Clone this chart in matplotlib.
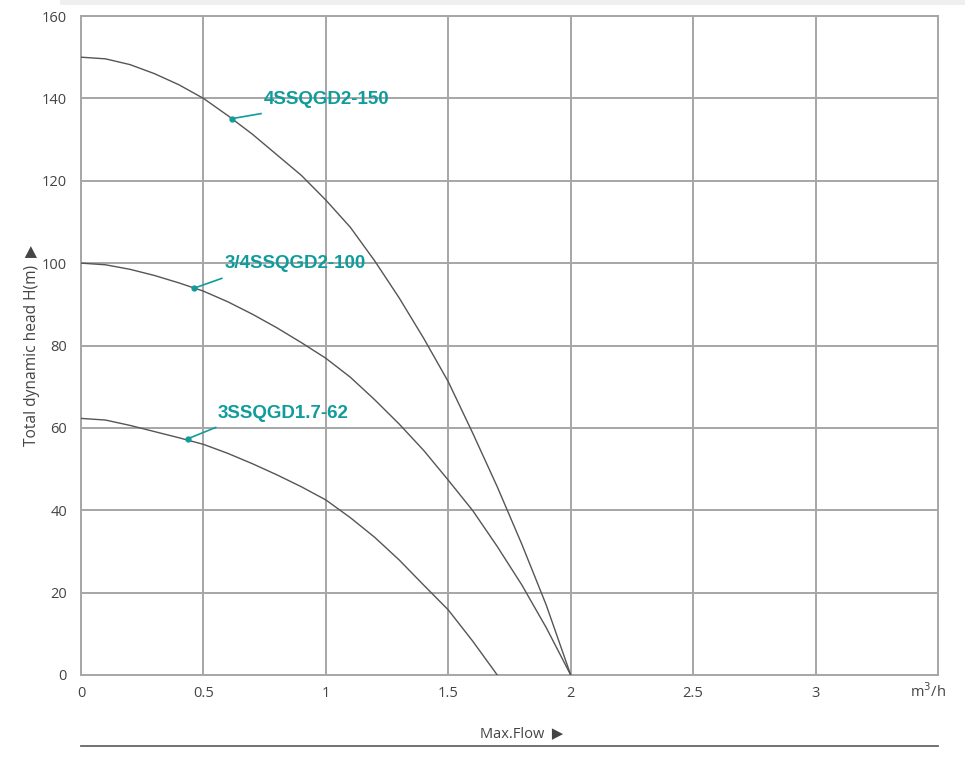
import matplotlib.pyplot as plt
from matplotlib.patches import Rectangle

# flow (m3/h) and head (m)
q_150 = [0, 0.1, 0.2, 0.3, 0.4, 0.5, 0.6, 0.7, 0.8, 0.9, 1.0, 1.1, 1.2, 1.3, 1.4, 1.5, 1.6, 1.7, 1.8, 1.9, 2.0]
h_150 = [150, 149.6, 148.2, 146, 143.3, 140, 135.8, 131.3, 126.3, 121.3, 115.3, 108.7, 100.5, 91.5, 81.7,
         71.2, 58.7, 45.7, 31.8, 17, 0]

q_100 = [0, 0.1, 0.2, 0.3, 0.4, 0.5, 0.6, 0.7, 0.8, 0.9, 1.0, 1.1, 1.2, 1.3, 1.4, 1.5, 1.6, 1.7, 1.8, 1.9, 2.0]
h_100 = [100, 99.6, 98.5, 97, 95.2, 93.2, 90.6, 87.6, 84.3, 80.7, 76.9, 72.3, 66.8, 60.9, 54.5,
         47.3, 39.9, 31.2, 21.9, 11.5, 0]

q_62 = [0, 0.1, 0.2, 0.3, 0.4, 0.5, 0.6, 0.7, 0.8, 0.9, 1.0, 1.1, 1.2, 1.3, 1.4, 1.5, 1.6, 1.7]
h_62 = [62.3, 61.9, 60.6, 59.1, 57.6, 56.0, 53.8, 51.3, 48.6, 45.7, 42.5, 38.2, 33.4, 27.9, 21.8,
        15.8, 8.2, 0]

labels = ['4SSQGD2-150', '3/4SSQGD2-100', '3SSQGD1.7-62']
marker_q = [0.618, 0.461, 0.438]
marker_h = [135.1, 93.9, 57.4]
text_q = [0.745, 0.585, 0.56]
text_h = [139.8, 99.8, 63.6]

xticks = [0, 0.5, 1, 1.5, 2, 2.5, 3]
yticks = [0, 20, 40, 60, 80, 100, 120, 140, 160]

teal = '#109c9c'
grid_c = '#a6a6a6'
tick_c = '#444444'

plt.rcParams['font.family'] = ['Open Sans', 'DejaVu Sans']

fig = plt.figure(figsize=(9.7, 7.61), dpi=100)
ax = fig.add_axes([81 / 970, 86 / 761, 857 / 970, 659 / 761])

for q, h in [(q_150, h_150), (q_100, h_100), (q_62, h_62)]:
    ax.plot(q, h, color='#555555', lw=1.0, zorder=3)

for lab, mq, mh, tq, th in zip(labels, marker_q, marker_h, text_q, text_h):
    ax.plot([mq, tq - 0.01], [mh, th - 3.5], color=teal, lw=1.2, zorder=4)
    ax.plot(mq, mh, 'o', color=teal, ms=3.5, zorder=5)
    ax.text(tq, th, lab, color=teal, fontsize=13.5, fontweight='bold',
            family='Liberation Sans', ha='left', va='center', zorder=5)

ax.set_xlim(0, 3.5)
ax.set_ylim(0, 160)
ax.set_xticks(xticks)
ax.set_yticks(yticks)
ax.set_xticklabels([str(t) for t in xticks])
ax.grid(True, color=grid_c, lw=1.4)
ax.set_axisbelow(True)
for s in ax.spines.values():
    s.set_color(grid_c)
    s.set_linewidth(1.4)
ax.tick_params(length=0, labelsize=10.5, labelcolor=tick_c, pad=8)
ax.tick_params(axis='y', pad=10)

# rotated with the label, so a right arrow shows as an up arrow
ax.set_ylabel('Total dynamic head H(m)  \u25b6', fontsize=11.2, color=tick_c)
ax.yaxis.set_label_coords(-0.048, 0.5)

fig.text(928 / 970, 1 - 692 / 761, 'm$^3$/h', fontsize=10.5, color=tick_c, ha='center', va='center')
fig.text(522 / 970, 1 - 734 / 761, 'Max.Flow  \u25b6', fontsize=10.5, color=tick_c, ha='center', va='center')
fig.add_artist(plt.Line2D([81 / 970, 938 / 970], [1 - 746 / 761, 1 - 746 / 761],
                          color='#666666', lw=1.3))
fig.add_artist(Rectangle((60 / 970, 1 - 5 / 761), 905 / 970, 5 / 761,
                         color='#efefef', lw=0, transform=fig.transFigure))

fig.savefig('out.png', dpi=100)
